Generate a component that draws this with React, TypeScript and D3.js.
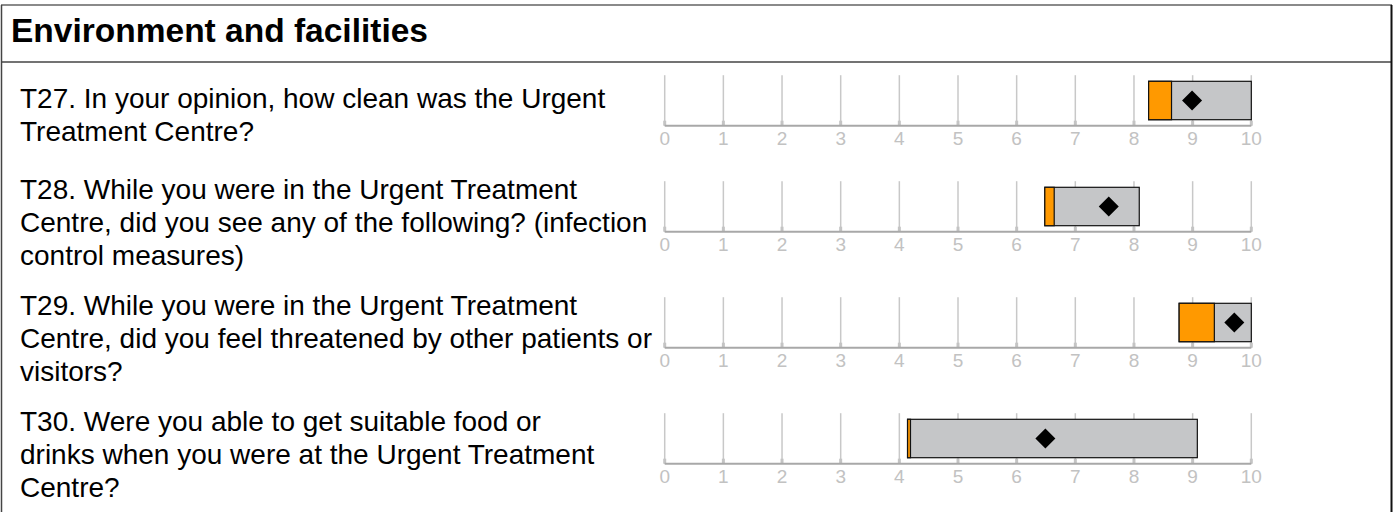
import React, { useEffect, useRef } from 'react';
import * as d3 from 'd3';

const title = 'Environment and facilities';

const questions = [
  ['T27. In your opinion, how clean was the Urgent', 'Treatment Centre?'],
  [
    'T28. While you were in the Urgent Treatment',
    'Centre, did you see any of the following? (infection',
    'control measures)',
  ],
  [
    'T29. While you were in the Urgent Treatment',
    'Centre, did you feel threatened by other patients or',
    'visitors?',
  ],
  [
    'T30. Were you able to get suitable food or',
    'drinks when you were at the Urgent Treatment',
    'Centre?',
  ],
];

// lower end of range, end of orange band, upper end of range, trust score
const rangeLow = [8.25, 6.48, 8.77, 4.14];
const bandHigh = [8.64, 6.64, 9.37, 4.19];
const rangeHigh = [10, 8.09, 10, 9.08];
const scores = [8.99, 7.57, 9.71, 6.49];

const tickValues = [0, 1, 2, 3, 4, 5, 6, 7, 8, 9, 10];

const W = 1393;
const H = 512;

const App = () => {
  const ref = useRef<SVGSVGElement | null>(null);

  useEffect(() => {
    const svg = d3.select(ref.current);
    svg.selectAll('*').remove();

    const x = d3.scaleLinear().domain([0, 10]).range([664.7, 1251.3]);
    const font = '"Liberation Sans", Arial, sans-serif';
    const lineH = 33;
    const headerBottom = 62;

    // frame
    svg
      .append('line')
      .attr('x1', 1).attr('x2', W - 1).attr('y1', 5).attr('y2', 5)
      .attr('stroke', '#8a8a8a').attr('stroke-width', 2);
    svg
      .append('line')
      .attr('x1', 1).attr('x2', W - 1).attr('y1', headerBottom).attr('y2', headerBottom)
      .attr('stroke', '#444').attr('stroke-width', 1.5);
    svg
      .append('line')
      .attr('x1', 1.5).attr('x2', 1.5).attr('y1', 5).attr('y2', H)
      .attr('stroke', '#444').attr('stroke-width', 1.5);
    svg
      .append('line')
      .attr('x1', W - 1.5).attr('x2', W - 1.5).attr('y1', 5).attr('y2', H)
      .attr('stroke', '#111').attr('stroke-width', 2);

    svg
      .append('text')
      .attr('x', 11)
      .attr('y', 41.5)
      .attr('font-family', font)
      .attr('font-weight', 'bold')
      .attr('font-size', 33.5)
      .attr('fill', '#000')
      .text(title);

    let top = headerBottom;
    questions.forEach((lines, i) => {
      const rowH = Math.max(106, lines.length * lineH + 17);
      const axisY = top + 63.7;
      const g = svg.append('g');

      // question text
      const textTop = top + (rowH - lines.length * lineH) / 2 - (lines.length > 2 ? 4 : 0);
      g.append('text')
        .attr('font-family', font)
        .attr('font-size', 28)
        .attr('fill', '#000')
        .selectAll('tspan')
        .data(lines)
        .join('tspan')
        .attr('x', 20)
        .attr('y', (_, j) => textTop + j * lineH + 26)
        .text(d => d);

      // grid lines
      g.selectAll('line.grid')
        .data(tickValues)
        .join('line')
        .attr('class', 'grid')
        .attr('x1', d => x(d)).attr('x2', d => x(d))
        .attr('y1', axisY - 50.5).attr('y2', axisY)
        .attr('stroke', '#c8c8c8').attr('stroke-width', 1.5);
      g.selectAll('line.tick')
        .data(tickValues)
        .join('line')
        .attr('class', 'tick')
        .attr('x1', d => x(d)).attr('x2', d => x(d))
        .attr('y1', axisY - 5).attr('y2', axisY)
        .attr('stroke', '#c4c4c4').attr('stroke-width', 3);

      g.append('line')
        .attr('x1', x(0)).attr('x2', x(10))
        .attr('y1', axisY).attr('y2', axisY)
        .attr('stroke', '#a8a8a8').attr('stroke-width', 2);

      g.selectAll('text.tl')
        .data(tickValues)
        .join('text')
        .attr('class', 'tl')
        .attr('x', d => x(d))
        .attr('y', axisY + 19)
        .attr('text-anchor', 'middle')
        .attr('font-family', font)
        .attr('font-size', 19)
        .attr('fill', '#c2c2c2')
        .text(d => d);

      // range box
      const barTop = axisY - 44.4;
      const barH = 38.4;
      g.append('rect')
        .attr('x', x(rangeLow[i]))
        .attr('y', barTop)
        .attr('width', x(rangeHigh[i]) - x(rangeLow[i]))
        .attr('height', barH)
        .attr('fill', '#c5c6c8')
        .attr('stroke', '#111')
        .attr('stroke-width', 1.2);
      g.append('rect')
        .attr('x', x(rangeLow[i]))
        .attr('y', barTop)
        .attr('width', x(bandHigh[i]) - x(rangeLow[i]))
        .attr('height', barH)
        .attr('fill', '#ff9900')
        .attr('stroke', '#111')
        .attr('stroke-width', 1.2);

      // score diamond
      g.append('path')
        .attr('d', d3.symbol().type(d3.symbolSquare).size(200)())
        .attr('transform', `translate(${x(scores[i])},${barTop + barH / 2}) rotate(45)`)
        .attr('fill', '#000');

      top += rowH;
    });
  }, []);

  return (
    <svg
      ref={ref}
      width={W}
      height={H}
      style={{ position: 'absolute', left: 0, top: 0, background: '#fff' }}
    />
  );
};

export default App;
